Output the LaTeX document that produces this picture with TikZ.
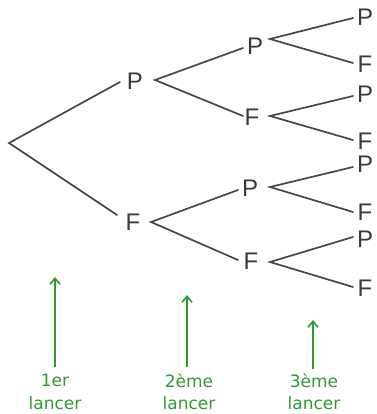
\documentclass[tikz,border=0pt]{standalone}
\usepackage{fontspec}
\setmainfont{DejaVu Sans}
\newfontfamily\letterfont{Liberation Sans}
\usetikzlibrary{arrows.meta}
\definecolor{linegray}{HTML}{474747}
\definecolor{textgray}{HTML}{3A3A3A}
\definecolor{arrgreen}{HTML}{2E9B2E}
\begin{document}
\begin{tikzpicture}[x=1pt,y=-1pt,
  lt/.style={font=\letterfont\fontsize{24}{24}\selectfont, text=textgray, inner sep=0pt},
  br/.style={draw=linegray, line width=1.7pt, line cap=round},
  gl/.style={font=\fontsize{17}{22.5}\selectfont, text=arrgreen, align=center, inner sep=0pt},
  arr/.style={draw=arrgreen, line width=1.6pt, -{Straight Barb[length=6pt,width=10pt]}}]
\useasboundingbox (0,0) rectangle (376,414);
% root
\coordinate (root) at (9,143);
% level 1
\node[lt] (P1) at (135,81) {P};
\node[lt] (F1) at (133,222) {F};
% level 2
\node[lt] (PP) at (255,46) {P};
\node[lt] (PF) at (252,117) {F};
\node[lt] (FP) at (250,188) {P};
\node[lt] (FF) at (251,261) {F};
% level 3
\node[lt] (PPP) at (365,17) {P};
\node[lt] (PPF) at (365,64) {F};
\node[lt] (PFP) at (365,94) {P};
\node[lt] (PFF) at (365,141) {F};
\node[lt] (FPP) at (365,164) {P};
\node[lt] (FPF) at (365,212) {F};
\node[lt] (FFP) at (365,239) {P};
\node[lt] (FFF) at (365,288) {F};
% branches
\draw[br] ([shift={(-15,1)}]P1.center) -- (root) -- ([shift={(-16,-7)}]F1.center);
\draw[br] ([shift={(-12,2)}]PP.center) -- ([shift={(20,-1)}]P1.center) -- ([shift={(-9,-1)}]PF.center);
\draw[br] ([shift={(-12,2)}]FP.center) -- ([shift={(18,0)}]F1.center) -- ([shift={(-13,-1)}]FF.center);
\draw[br] ([shift={(-12,1)}]PPP.center) -- ([shift={(15,-7)}]PP.center) -- ([shift={(-12,-1)}]PPF.center);
\draw[br] ([shift={(-12,2)}]PFP.center) -- ([shift={(18,-1)}]PF.center) -- ([shift={(-12,-1)}]PFF.center);
\draw[br] ([shift={(-12,3)}]FPP.center) -- ([shift={(20,-1)}]FP.center) -- ([shift={(-12,0)}]FPF.center);
\draw[br] ([shift={(-12,-2)}]FFP.center) -- ([shift={(19,1)}]FF.center) -- ([shift={(-12,-1)}]FFF.center);
% labels
\node[gl] (L1) at (55,392) {1er\\lancer};
\node[gl] (L2) at (189,392) {2ème\\lancer};
\node[gl] (L3) at (314,392) {3ème\\lancer};
\coordinate (t1) at (55,277);
\coordinate (t2) at (187,295);
\coordinate (t3) at (313,320);
\draw[arr] ([yshift=7pt]L1.north -| t1) -- (t1);
\draw[arr] ([yshift=7pt]L2.north -| t2) -- (t2);
\draw[arr] ([yshift=5pt]L3.north -| t3) -- (t3);
\end{tikzpicture}
\end{document}
